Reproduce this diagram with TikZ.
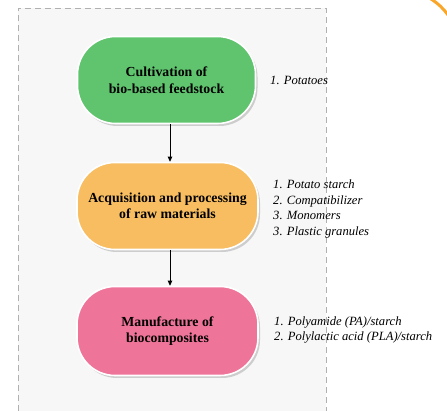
\documentclass[tikz,border=0pt]{standalone}
\usepackage{fontspec}
\setmainfont{Liberation Serif}
\usetikzlibrary{shadows,arrows.meta}
\definecolor{bggray}{HTML}{F7F7F7}
\definecolor{dashgray}{HTML}{B0B0B0}
\definecolor{cgreen}{HTML}{60C46F}
\definecolor{corange}{HTML}{F7BD60}
\definecolor{cpink}{HTML}{EF7499}
\definecolor{arcorange}{HTML}{F9A72B}
\tikzset{
  stage/.style={draw=white, line width=1.6pt, rounded corners=38pt, minimum width=178pt,
    minimum height=87pt, align=center, font=\bfseries\fontsize{13.8}{16.5}\selectfont,
    drop shadow={opacity=0.35, shadow xshift=2pt, shadow yshift=-2.5pt}},
  items/.style={anchor=west, align=left, font=\itshape\fontsize{12.6}{15.5}\selectfont, inner sep=0pt},
  flow/.style={-{Triangle[length=5pt,width=4.5pt]}, line width=0.7pt, black}
}
\begin{document}
\begin{tikzpicture}[x=1pt,y=1pt]
\useasboundingbox (0,0) rectangle (447,411);
\fill[bggray] (18,0) rectangle (326,403);
\draw[dashgray, line width=0.6pt, dash pattern=on 6pt off 4pt] (18,0) -- (18,403) -- (326,403) -- (326,0);
\draw[arcorange, line width=3pt] (431,412) to[bend left=10] (448,396);
\node[stage, fill=cgreen] (b1) at (166.5,331) {Cultivation of\\bio-based feedstock};
\node[stage, fill=corange, minimum width=181pt] (b2) at (167.5,205) {Acquisition and processing\\of raw materials};
\node[stage, fill=cpink, minimum width=181pt, minimum height=89pt] (b3) at (167.5,80) {Manufacture of\\biocomposites};
\node[items] (t1) at (270,331) {1. Potatoes};
\node[items] (t2) at (273,202) {1. Potato starch\\2. Compatibilizer\\3. Monomers\\3. Plastic granules};
\node[items] (t3) at (274,81) {1. Polyamide (PA)/starch\\2. Polylactic acid (PLA)/starch};
\draw[flow] ([xshift=3.5pt]b1.south) -- ([xshift=2.5pt]b2.north);
\draw[flow] ([xshift=2.5pt]b2.south) -- ([xshift=2.5pt]b3.north);
\end{tikzpicture}
\end{document}
